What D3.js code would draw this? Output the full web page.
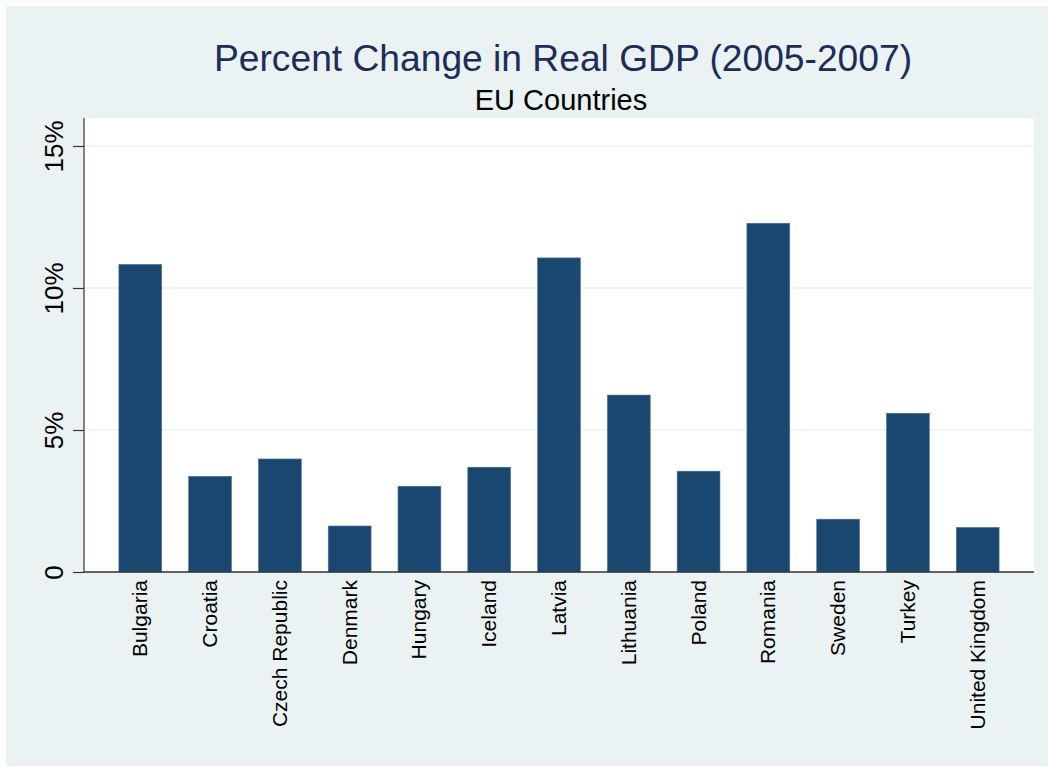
<!DOCTYPE html>
<html lang="en">
<head>
<meta charset="UTF-8">
<title>Percent Change in Real GDP (2005-2007)</title>
<style>
  *{margin:0;padding:0}
  body{background:#fff;font-family:'Liberation Sans',Arial,sans-serif}
  svg{display:block}
</style>
<script src="https://cdn.jsdelivr.net/npm/d3@7"></script>
</head>
<body>
<div id="chart"></div>
<script>
/* ---------- DATA ---------- */
const countries = ["Bulgaria","Croatia","Czech Republic","Denmark","Hungary","Iceland","Latvia","Lithuania","Poland","Romania","Sweden","Turkey","United Kingdom"];
const gdpChange = [10.83,3.37,3.98,1.62,3.02,3.69,11.06,6.23,3.55,12.28,1.86,5.59,1.57];
const yTicks    = [0,5,10,15];
const yTickText = ["0","5%","10%","15%"];

/* ---------- LAYOUT ---------- */
const W=1054,H=772;
const plot={left:84,right:1034,top:118,bottom:572};

const svg=d3.select('#chart').append('svg').attr('width',W).attr('height',H);

// graph region
svg.append('rect').attr('x',6).attr('y',6).attr('width',W-12).attr('height',H-12).attr('fill','#eaf2f3');
// plot region
svg.append('rect').attr('x',plot.left).attr('y',plot.top)
   .attr('width',plot.right-plot.left).attr('height',plot.bottom-plot.top).attr('fill','#fff');

const x=d3.scaleBand().domain(countries).range([plot.left,plot.right]).paddingInner(0.386).paddingOuter(0.5);
const y=d3.scaleLinear().domain([0,15]).range([plot.bottom,plot.bottom-15*28.4]);

/* ---- grid ---- */
svg.append('g').selectAll('line').data(yTicks.filter(d=>d>0)).join('line')
   .attr('x1',plot.left).attr('x2',plot.right)
   .attr('y1',d=>y(d)).attr('y2',d=>y(d))
   .attr('stroke','#eaf2f3').attr('stroke-width',1.6);

/* ---- bars ---- */
svg.append('g').selectAll('rect').data(countries).join('rect')
   .attr('x',d=>x(d)).attr('width',x.bandwidth())
   .attr('y',(d,i)=>y(gdpChange[i])).attr('height',(d,i)=>y(0)-y(gdpChange[i]))
   .attr('fill','#1a476f').attr('stroke','#4f7497').attr('stroke-width',0.6);

/* ---- y axis ---- */
const yAxis=d3.axisLeft(y).tickValues(yTicks).tickFormat((d,i)=>yTickText[i]).tickSize(11).tickPadding(0);
const ga=svg.append('g').attr('transform',`translate(${plot.left},0)`).call(yAxis);
ga.select('.domain').attr('d',`M0,${plot.top}V${plot.bottom}`).attr('stroke','#333').attr('stroke-width',1.2);
ga.selectAll('.tick line').attr('stroke','#333').attr('stroke-width',1.2);
ga.selectAll('.tick text')
  .attr('x',null).attr('dy',null)
  .attr('transform','translate(-21,0) rotate(-90)')
  .attr('text-anchor','middle')
  .attr('font-family',"'Liberation Sans',Arial,sans-serif")
  .attr('font-size',26).attr('fill','#000');

/* ---- x axis ---- */
const xAxis=d3.axisBottom(x).tickSize(0).tickPadding(0);
const gx=svg.append('g').attr('transform',`translate(0,${plot.bottom})`).call(xAxis);
gx.select('.domain').attr('d',`M${plot.left},0H${plot.right}`).attr('stroke','#333').attr('stroke-width',1.4);
gx.selectAll('.tick text')
  .attr('y',null).attr('dy',null)
  .attr('transform','translate(7,8) rotate(-90)')
  .attr('text-anchor','end')
  .attr('font-family',"'Liberation Sans',Arial,sans-serif")
  .attr('font-size',21).attr('fill','#000');

/* ---- titles ---- */
svg.append('text').attr('x',563).attr('y',71).attr('text-anchor','middle')
   .attr('font-size',37.2).attr('fill','#1e2c5a').text('Percent Change in Real GDP (2005-2007)');
svg.append('text').attr('x',561).attr('y',110).attr('text-anchor','middle')
   .attr('font-size',29).attr('fill','#000').text('EU Countries');
</script>
</body>
</html>
